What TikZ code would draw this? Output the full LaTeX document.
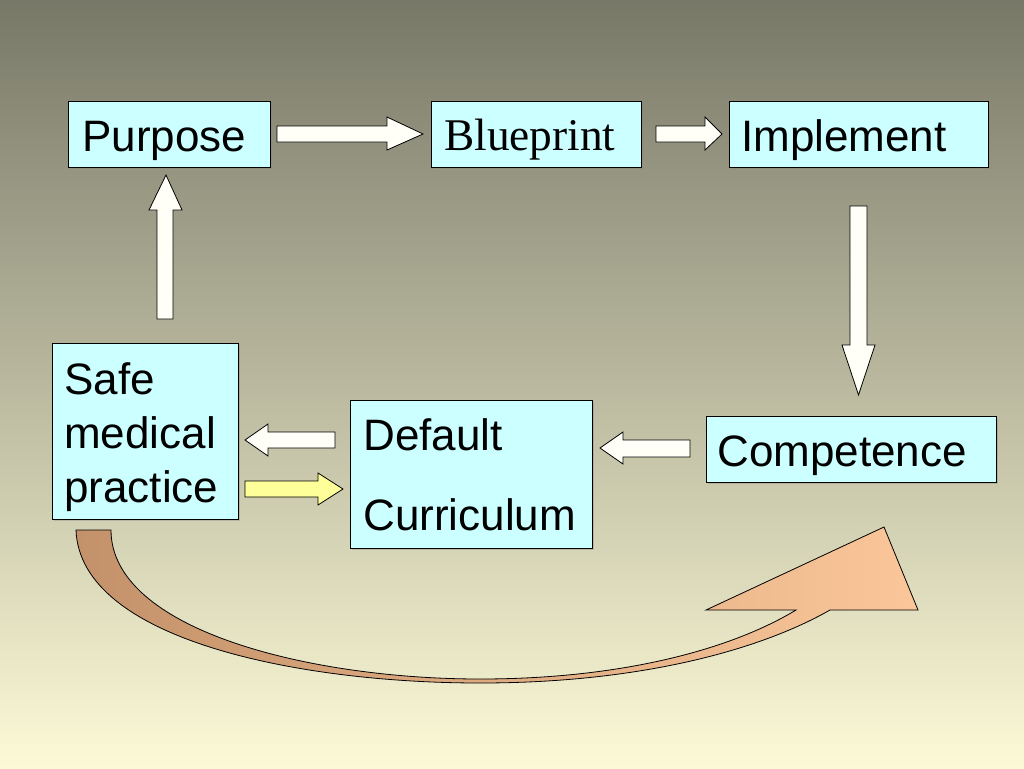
\documentclass[tikz,border=0pt]{standalone}
\usepackage{fontspec}
\setmainfont{Liberation Sans}
\newfontfamily\timesf{Liberation Serif}
\usetikzlibrary{shadows}
\definecolor{bgtop}{RGB}{120,120,104}
\definecolor{bgmid}{RGB}{198,197,162}
\definecolor{bgbot}{RGB}{252,250,214}
\definecolor{boxfill}{RGB}{204,255,255}
\definecolor{arrwhite}{RGB}{255,255,248}
\definecolor{arryellow}{RGB}{255,255,153}
\definecolor{curvedark}{RGB}{196,146,106}
\definecolor{curvelight}{RGB}{250,198,154}
\tikzset{
  box/.style={draw=black, line width=0.6pt, fill=boxfill, inner sep=0pt,
    drop shadow={shadow xshift=1.5pt, shadow yshift=-1.5pt, opacity=0.35}},
  lbl/.style={anchor=base west, inner sep=0pt, font=\fontsize{33}{40}\selectfont},
  blockarrow/.style={draw=black, line width=0.6pt, fill=arrwhite, line join=miter},
}
\begin{document}
\begin{tikzpicture}[x=0.75pt,y=-0.75pt]
\useasboundingbox (0,0) rectangle (1024,768);
\shade[top color=bgtop, middle color=bgmid, bottom color=bgbot] (0,0) rectangle (1024,768);

% boxes
\node[box, minimum width=151.5pt, minimum height=49.5pt] (purpose) at (169,134) {};
\node[box, minimum width=157.5pt, minimum height=49.5pt] (blueprint) at (536,134) {};
\node[box, minimum width=194.25pt, minimum height=49.5pt] (implement) at (858.5,134) {};
\node[box, minimum width=139.5pt, minimum height=132pt] (safe) at (145,431) {};
\node[box, minimum width=181.5pt, minimum height=111pt] (default) at (471,474) {};
\node[box, minimum width=217.5pt, minimum height=49.5pt] (competence) at (851,449) {};

% labels
\node[lbl] (tpurpose) at (82,151) {Purpose};
\node[lbl, font=\timesf\fontsize{34}{40}\selectfont] (tblueprint) at (444,150) {Blueprint};
\node[lbl] (timplement) at (741,151) {Implement};
\node[lbl] (tcompetence) at (717,466) {Competence};
\node[lbl] (tsafe1) at (64,394) {Safe};
\node[lbl] (tsafe2) at (64,448) {medical};
\node[lbl] (tsafe3) at (64,502) {practice};
\node[lbl] (tdef1) at (363,450) {Default};
\node[lbl] (tdef2) at (363,530) {Curriculum};

% block arrows
% Purpose -> Blueprint
\draw[blockarrow] (277,126) -- (387,126) -- (387,117) -- (423,134) -- (387,150) -- (387,142) -- (277,142) -- cycle;
% Blueprint -> Implement
\draw[blockarrow] (656,126) -- (705,126) -- (705,117) -- (722,134) -- (705,150) -- (705,142) -- (656,142) -- cycle;
% Implement -> Competence (down)
\draw[blockarrow] (850,206) -- (867,206) -- (867,345) -- (875,345) -- (858.5,395) -- (842,345) -- (850,345) -- cycle;
% Safe -> Purpose (up)
\draw[blockarrow] (157,319) -- (157,210) -- (149,210) -- (166,175) -- (182,210) -- (173,210) -- (173,319) -- cycle;
% Competence -> Default (left)
\draw[blockarrow] (690,440) -- (623,440) -- (623,432) -- (600,448) -- (623,464) -- (623,457) -- (690,457) -- cycle;
% Default -> Safe (left, white)
\draw[blockarrow] (335,432) -- (268,432) -- (268,424) -- (245,440) -- (268,456) -- (268,448) -- (335,448) -- cycle;
% Safe -> Default (right, yellow)
\draw[blockarrow, fill=arryellow] (245,481) -- (318,481) -- (318,473) -- (343,489) -- (318,505) -- (318,497) -- (245,497) -- cycle;

% curved arrow from Safe medical practice toward Competence
\path[draw=black, line width=0.6pt, left color=curvedark, right color=curvelight, shading angle=90]
  (76,530) .. controls (80,640) and (300,683) .. (480,683)
  .. controls (640,683) and (760,650) .. (830,610)
  -- (918,610) -- (884,527) -- (706,610) -- (796,610)
  .. controls (730,650) and (620,679) .. (480,679)
  .. controls (310,679) and (111,630) .. (111,530) -- cycle;
\end{tikzpicture}
\end{document}
